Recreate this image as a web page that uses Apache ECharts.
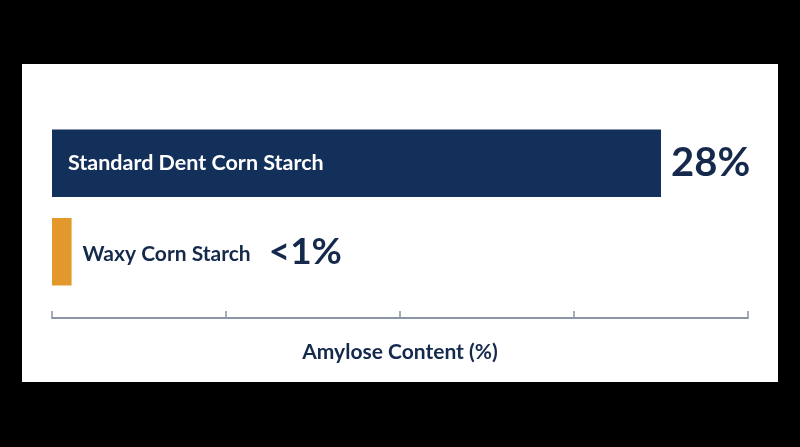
<!DOCTYPE html>
<html><head><meta charset="utf-8">
<script src="https://cdn.jsdelivr.net/npm/echarts@6/dist/echarts.min.js"></script>
<style>html,body{margin:0;padding:0;background:#000;}#c{width:800px;height:447px;}</style>
</head><body><div id="c"></div>
<script>
const categories = ['Standard Dent Corn Starch', 'Waxy Corn Starch'];
const amylose = [28, 0.9];
const valueLabels = ['28%', '<1%'];
const axisTicks = [0, 8, 16, 24, 32];
const axisTitle = 'Amylose Content (%)';

const navy = '#13305a';
const orange = '#e2982b';
const textNavy = '#14294b';
const font = 'Lato';

const chart = echarts.init(document.getElementById('c'));
chart.setOption({
  backgroundColor: '#000',
  animation: false,
  graphic: [{
    type: 'rect', z: -10, silent: true,
    shape: { x: 22, y: 64, width: 756, height: 318 },
    style: { fill: '#fff' }
  }],
  grid: { left: 52, right: 52, top: 119, bottom: 151 },
  xAxis: {
    type: 'value', min: axisTicks[0], max: axisTicks[axisTicks.length - 1], interval: axisTicks[1] - axisTicks[0],
    offset: 22,
    axisLine: { show: true, lineStyle: { color: '#8a95a5', width: 2 } },
    axisTick: { show: true, inside: true, length: 7, lineStyle: { color: '#8a95a5', width: 1.5 } },
    axisLabel: { show: false },
    splitLine: { show: false },
    name: axisTitle, nameLocation: 'middle', nameGap: 24,
    nameTextStyle: { color: textNavy, fontSize: 21, fontFamily: font, fontWeight: 'bold' }
  },
  yAxis: {
    type: 'category', data: categories, inverse: true,
    axisLine: { show: false }, axisTick: { show: false }, axisLabel: { show: false }
  },
  series: [{
    type: 'bar', barCategoryGap: '24%',
    data: amylose.map((v, i) => ({
      value: v,
      itemStyle: { color: i === 0 ? navy : orange },
      label: i === 0 ? {
        show: true, position: 'insideLeft', distance: 16,
        formatter: categories[i], color: '#fff', fontSize: 21.5, fontFamily: font, fontWeight: 'bold'
      } : {
        show: true, position: 'right', distance: 11,
        formatter: '{n|' + categories[i] + '}{v|' + valueLabels[i] + '}',
        rich: {
          n: { color: textNavy, fontSize: 21, fontFamily: font, fontWeight: 'bold', padding: [4, 18, 0, 0] },
          v: { color: textNavy, fontSize: 37, fontFamily: font, fontWeight: 'bold' }
        }
      }
    }))
  }, {
    type: 'bar', barCategoryGap: '24%', barGap: '-100%', silent: true,
    itemStyle: { color: 'rgba(0,0,0,0)' },
    data: amylose.map((v, i) => ({
      value: v,
      label: i === 0 ? {
        show: true, position: 'right', distance: 10, formatter: valueLabels[i],
        color: textNavy, fontSize: 40, fontFamily: font, fontWeight: 'bold'
      } : { show: false }
    }))
  }]
});
</script></body></html>
